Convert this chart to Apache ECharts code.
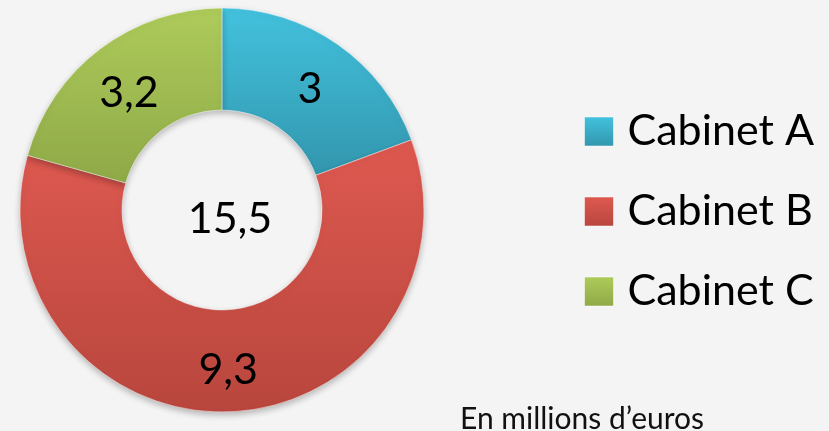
<!DOCTYPE html>
<html>
<head>
<meta charset="utf-8">
<script src="https://cdn.jsdelivr.net/npm/echarts@6/dist/echarts.min.js"></script>
<style>
	html, body { margin: 0; padding: 0; background: #f4f4f4; }
	#chart { width: 829px; height: 431px; }
</style>
</head>
<body>
<div id="chart"></div>
<script>
var categories = ['Cabinet A', 'Cabinet B', 'Cabinet C'];
var values = [3, 9.3, 3.2];
var unitNote = 'En millions d\u2019euros';

// top / bottom of the vertical gradient for each slice
var topColors = ['#43c2de', '#de5950', '#aecb5b'];
var bottomColors = ['#3296ad', '#b8463d', '#8ea947'];

function fr(v) {
	return (Math.round(v * 10) / 10 + '').replace('.', ',');
}

var total = 0;
for (var i = 0; i < values.length; i++) total += values[i];

var pieData = [];
for (var i = 0; i < values.length; i++) {
	pieData.push({
		name: categories[i],
		value: values[i],
		itemStyle: {
			color: new echarts.graphic.LinearGradient(0, 0, 0, 1, [{
				offset: 0,
				color: topColors[i]
			}, {
				offset: 1,
				color: bottomColors[i]
			}])
		}
	});
}

var ec = echarts.init(document.getElementById('chart'));
ec.setOption({
	backgroundColor: '#f4f4f4',
	animation: false,
	textStyle: {
		fontFamily: 'Lato'
	},
	legend: {
		orient: 'vertical',
		left: 584,
		top: 110,
		padding: 0,
		icon: 'rect',
		itemWidth: 29,
		itemHeight: 29,
		itemGap: 37,
		selectedMode: false,
		itemStyle: {
			borderColor: 'rgba(255,255,255,0.5)',
			borderWidth: 1
		},
		textStyle: {
			fontSize: 43,
			color: '#000',
			padding: [0, 0, 0, 9]
		},
		data: categories
	},
	graphic: [{
		type: 'text',
		x: 460,
		y: 419,
		style: {
			text: unitNote,
			fontSize: 30,
			fontFamily: 'Lato',
			fill: '#111',
			verticalAlign: 'middle'
		}
	}, {
		type: 'text',
		x: 230,
		y: 219,
		style: {
			text: fr(total),
			fontSize: 43,
			fontFamily: 'Lato',
			fill: '#000',
			align: 'center',
			verticalAlign: 'middle'
		}
	}],
	series: [{
		type: 'pie',
		center: [222, 210],
		radius: [100, 202],
		startAngle: 90,
		clockwise: true,
		avoidLabelOverlap: false,
		itemStyle: {
			borderColor: 'rgba(255,255,255,0.45)',
			borderWidth: 1,
			shadowColor: 'rgba(0,0,0,0.25)',
			shadowBlur: 6,
			shadowOffsetY: 3
		},
		label: {
			show: true,
			position: 'inside',
			color: '#000',
			formatter: function(p) {
				return '{v|' + fr(p.value) + '}';
			},
			rich: {
				v: {
					fontSize: 43,
					fontFamily: 'Lato',
					color: '#000',
					padding: [12, 0, 0, 0]
				}
			}
		},
		labelLine: {
			show: false
		},
		emphasis: {
			disabled: true
		},
		data: pieData
	}]
});
</script>
</body>
</html>
